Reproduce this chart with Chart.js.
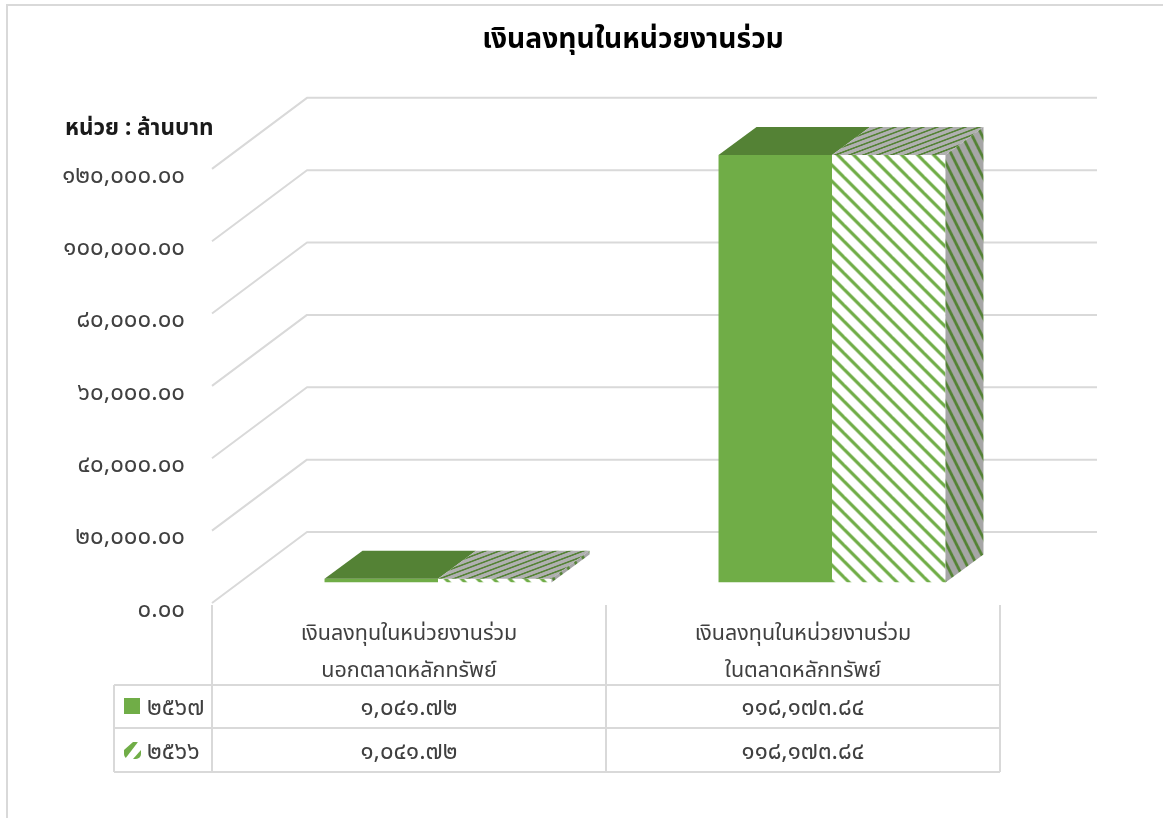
<!DOCTYPE html>
<html>
<head>
<meta charset="utf-8">
<style>
  html, body { margin: 0; padding: 0; background: #fff; }
  #wrap { width: 1163px; height: 818px; position: relative; }
</style>
<script src="https://cdn.jsdelivr.net/npm/chart.js@4"></script>
</head>
<body>
<div id="wrap"><canvas id="chart1" width="1163" height="818"></canvas></div>
<script>
var titleText = "เงินลงทุนในหน่วยงานร่วม";
var unitText = "หน่วย : ล้านบาท";
var categories = [["เงินลงทุนในหน่วยงานร่วม", "นอกตลาดหลักทรัพย์"], ["เงินลงทุนในหน่วยงานร่วม", "ในตลาดหลักทรัพย์"]];
var seriesNames = ["๒๕๖๗", "๒๕๖๖"];
var values2567 = [1041.72, 118173.84];
var values2566 = [1041.72, 118173.84];
var yTicks = [0, 20000, 40000, 60000, 80000, 100000, 120000];

var fontName = "'Noto Sans', 'Noto Sans Thai', sans-serif";
var green = '#70ad47';
var darkGreen = '#548235';
var gridColor = '#d9d9d9';
// depth of the 3d box, front plane -> back wall
var wallDx = 95, wallDy = 71, wallWidth = 790;
var labelDrop = 7; // tick labels sit a little under their gridline
var barDx = 29, barDy = 27.5, boxDx = 38, boxDy = 28;

function thai(str) {
  return String(str).replace(/[0-9]/g, function (d) { return '๐๑๒๓๔๕๖๗๘๙'[d]; });
}
function money(v) {
  return thai(v.toLocaleString('en-US', { minimumFractionDigits: 2, maximumFractionDigits: 2 }));
}

function hatch(bg, fg, period, band) {
  var c = document.createElement('canvas');
  c.width = c.height = period;
  var g = c.getContext('2d');
  g.fillStyle = bg;
  g.fillRect(0, 0, period, period);
  g.fillStyle = fg;
  for (var i = -period; i <= period; i += period) {
    g.beginPath();
    g.moveTo(i, 0);
    g.lineTo(i + band, 0);
    g.lineTo(i + band + period, period);
    g.lineTo(i + period, period);
    g.closePath();
    g.fill();
  }
  return c;
}

var ctx2 = document.getElementById('chart1').getContext('2d');
var faceHatch = ctx2.createPattern(hatch('#ffffff', green, 16, 4.5), 'repeat');
var sideHatch = ctx2.createPattern(hatch('#a6a6a6', darkGreen, 16, 5), 'repeat');
var topHatch = ctx2.createPattern(hatch('#b0b0b0', darkGreen, 16, 5), 'repeat');
sideHatch.setTransform(new DOMMatrix([0.625, 0, 0, 1.25, 0, 0]));
topHatch.setTransform(new DOMMatrix([0.875, 0, 0, -0.33, 0, 0]));

function poly(ctx, pts, fill) {
  ctx.beginPath();
  ctx.moveTo(pts[0][0], pts[0][1]);
  for (var i = 1; i < pts.length; i++) ctx.lineTo(pts[i][0], pts[i][1]);
  ctx.closePath();
  ctx.fillStyle = fill;
  ctx.fill();
}

var box3d = {
  id: 'box3d',
  afterLayout: function (chart) {
    // title sits over the walls, not over the page
    chart.titleBlock.left = 103;
    chart.titleBlock.right = 1163;
  },
  beforeDatasetsDraw: function (chart) {
    var ctx = chart.ctx, y = chart.scales.y, a = chart.chartArea;
    ctx.save();
    ctx.strokeStyle = gridColor;
    ctx.lineWidth = 2;
    ctx.lineJoin = 'round';
    y.ticks.forEach(function (t) {
      var py = y.getPixelForValue(t.value) - labelDrop;
      ctx.beginPath();
      ctx.moveTo(a.left, py);
      ctx.lineTo(a.left + wallDx, py - wallDy);
      ctx.lineTo(a.left + wallDx + wallWidth, py - wallDy);
      ctx.stroke();
    });
    ctx.restore();
    ctx.save();
    ctx.translate(barDx, -barDy);
  },
  afterDatasetsDraw: function (chart) {
    var ctx = chart.ctx;
    chart.data.datasets.forEach(function (ds, i) {
      var side = i === 0 ? darkGreen : sideHatch;
      var top = i === 0 ? darkGreen : topHatch;
      chart.getDatasetMeta(i).data.forEach(function (b) {
        var l = b.x - b.width / 2, r = b.x + b.width / 2;
        poly(ctx, [[l, b.y], [r, b.y], [r + boxDx, b.y - boxDy], [l + boxDx, b.y - boxDy]], top);
        if (i === 1) poly(ctx, [[r, b.y], [r + boxDx, b.y - boxDy], [r + boxDx, b.base - boxDy], [r, b.base]], side);
      });
    });
    ctx.restore();
  },
  afterDraw: function (chart) {
    var ctx = chart.ctx, x = chart.scales.x, a = chart.chartArea;
    var rows = [685, 728, 772];
    var legendLeft = 114;
    var xs = [a.left, x.getPixelForValue(0) + (x.getPixelForValue(1) - x.getPixelForValue(0)) / 2, a.right];
    ctx.save();
    // outer chart border
    ctx.strokeStyle = gridColor;
    ctx.lineWidth = 2;
    ctx.beginPath();
    ctx.moveTo(7, 818);
    ctx.lineTo(7, 5);
    ctx.lineTo(1163, 5);
    ctx.stroke();
    // data table lines
    ctx.beginPath();
    xs.forEach(function (px) { ctx.moveTo(px, 605); ctx.lineTo(px, rows[2]); });
    ctx.moveTo(legendLeft, rows[0]); ctx.lineTo(legendLeft, rows[2]);
    rows.forEach(function (py) { ctx.moveTo(legendLeft, py); ctx.lineTo(a.right, py); });
    ctx.stroke();
    // data table text
    ctx.font = "24px " + fontName;
    ctx.textBaseline = 'middle';
    chart.data.datasets.forEach(function (ds, i) {
      var cy = (rows[i] + rows[i + 1]) / 2;
      ctx.fillStyle = '#404040';
      ctx.textAlign = 'left';
      ctx.fillText(ds.label, 147, cy + 2);
      ctx.textAlign = 'center';
      ds.data.forEach(function (v, j) {
        ctx.fillText(money(v), x.getPixelForValue(j), cy + 2);
      });
      if (i === 0) {
        ctx.fillStyle = ds.backgroundColor;
        ctx.fillRect(124, cy - 8.5, 16, 16);
      } else {
        // legend key of the hatched series: one broad stripe and a corner
        ctx.save();
        ctx.beginPath();
        ctx.roundRect(124, cy - 8, 17, 17, 5);
        ctx.clip();
        poly(ctx, [[124, cy], [133, cy - 8], [138, cy - 8], [125, cy + 9], [124, cy + 9]], green);
        poly(ctx, [[141, cy], [141, cy + 9], [133, cy + 9]], green);
        ctx.restore();
      }
    });
    // unit label over the axis
    ctx.fillStyle = '#1a1a1a';
    ctx.font = "bold 22.5px " + fontName;
    ctx.textAlign = 'left';
    ctx.fillText(unitText, 65, 129);
    ctx.restore();
  }
};

var myChart1 = new Chart(ctx2, {
  type: 'bar',
  data: {
    labels: categories,
    datasets: [
      { label: seriesNames[0], data: values2567, backgroundColor: green, categoryPercentage: 0.576, barPercentage: 1 },
      { label: seriesNames[1], data: values2566, backgroundColor: faceHatch, categoryPercentage: 0.576, barPercentage: 1 }
    ]
  },
  options: {
    responsive: false,
    animation: false,
    layout: { padding: { right: 163 } },
    plugins: {
      legend: { display: false },
      tooltip: { enabled: false },
      title: {
        display: true,
        text: titleText,
        color: '#000000',
        font: { family: fontName, size: 28.2, weight: 'bold', lineHeight: 1.2 },
        padding: { top: 23, bottom: 119 }
      }
    },
    scales: {
      y: {
        min: 0,
        max: 120000,
        afterFit: function (s) { s.width = 212; },
        afterBuildTicks: function (s) { s.ticks = yTicks.map(function (v) { return { value: v }; }); },
        grid: { display: false },
        border: { display: false },
        ticks: {
          padding: 19,
          color: '#404040',
          font: { family: fontName, size: 24 },
          callback: function (v) { return money(v); }
        }
      },
      x: {
        afterFit: function (s) { s.height = 208; },
        grid: { display: false },
        border: { display: false },
        ticks: {
          padding: -3,
          maxRotation: 0,
          autoSkip: false,
          color: '#404040',
          font: { family: fontName, size: 21.5, lineHeight: 1.72 }
        }
      }
    }
  },
  plugins: [box3d]
});
</script>
</body>
</html>
